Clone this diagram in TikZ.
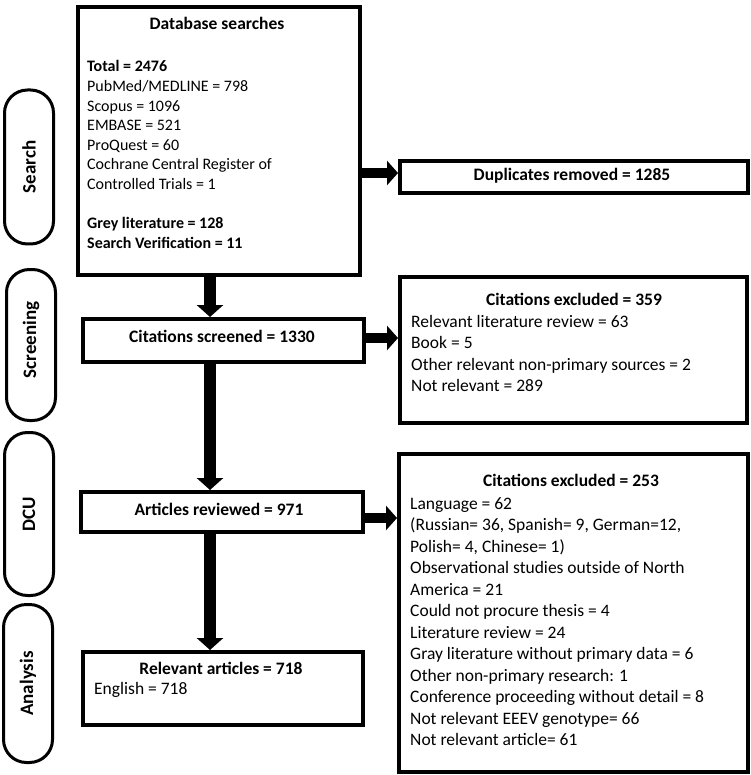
\documentclass[tikz,border=0pt]{standalone}
\usepackage{fontspec}
\setmainfont{Carlito}
\usetikzlibrary{arrows.meta,calc}
\begin{document}
\begin{tikzpicture}[x=1pt,y=1pt,
  box/.style={draw=black, line width=4pt, anchor=north west, inner sep=0pt},
  pill/.style={draw=black, line width=3pt, rounded corners=23pt, minimum width=49pt, inner sep=0pt},
  plabel/.style={rotate=90, font=\fontsize{19}{22}\selectfont\bfseries, inner sep=0pt},
  btxt/.style={font=\fontsize{17.5}{21.5}\selectfont\bfseries, inner sep=0pt},
  ltxt/.style={font=\fontsize{17.5}{21.5}\selectfont, align=left, anchor=north west, inner sep=0pt},
  dtxt/.style={font=\fontsize{16}{19.6}\selectfont, align=left, anchor=north west, inner sep=0pt},
  varr/.style={line width=12pt, -{Triangle[width=26pt,length=12pt]}},
  harr/.style={line width=10pt, -{Triangle[width=24pt,length=11pt]}}
]
\useasboundingbox (0,0) rectangle (750,-775);

% phase pills
\node[pill, minimum height=154pt] (psearch) at (29,-167) {};
\node[plabel] (lsearch) at (psearch.center) {Search};
\node[pill, minimum height=151pt] (pscreen) at (31,-345) {};
\node[plabel] (lscreen) at (31,-340) {Screening};
\node[pill, minimum height=163pt] (pdcu) at (29,-514) {};
\node[plabel] (ldcu) at (pdcu.center) {DCU};
\node[pill, minimum height=158pt] (pana) at (28,-683.5) {};
\node[plabel] (lana) at (pana.center) {Analysis};

% left column boxes
\node[box, minimum width=282pt, minimum height=268pt] (db) at (76,-5) {};
\node[btxt] (dbtitle) at (217,-23) {Database searches};
\node[dtxt] (dbbody) at (87,-60.5) {\textbf{Total = 2476}\\
PubMed/MEDLINE = 798\\
Scopus = 1096\\
EMBASE = 521\\
ProQuest = 60\\
Cochrane Central Register of\\
Controlled Trials = 1\\[19.6pt]
\textbf{Grey literature = 128}\\
\textbf{Search Verification = 11}};

\node[box, minimum width=281pt, minimum height=43pt] (scr) at (81,-317) {};
\node[btxt] (scrtxt) at (222,-336) {Citations screened = 1330};

\node[box, minimum width=282pt, minimum height=40pt] (art) at (79,-490) {};
\node[btxt] (arttxt) at (219,-509) {Articles reviewed = 971};

\node[box, minimum width=280pt, minimum height=73pt] (rel) at (81,-650) {};
\node[btxt] (reltitle) at (221,-668) {Relevant articles = 718};
\node[ltxt] (relbody) at (94,-682) {English = 718};

% right column boxes
\node[box, minimum width=348pt, minimum height=32pt] (dup) at (398,-159) {};
\node[btxt] (duptxt) at (572,-176) {Duplicates removed = 1285};

\node[box, minimum width=347pt, minimum height=146pt] (exa) at (398,-275) {};
\node[btxt] (exatitle) at (574,-299) {Citations excluded = 359};
\node[ltxt] (exabody) at (411,-315) {Relevant literature review = 63\\
Book = 5\\
Other relevant non-primary sources = 2\\
Not relevant = 289};

\node[box, minimum width=349pt, minimum height=318pt] (exb) at (397,-452) {};
\node[btxt] (exbtitle) at (571,-480) {Citations excluded = 253};
\node[ltxt] (exbbody) at (410,-497) {Language = 62\\
(Russian= 36, Spanish= 9, German=12,\\
Polish= 4, Chinese= 1)\\
Observational studies outside of North\\
America = 21\\
Could not procure thesis = 4\\
Literature review = 24\\
Gray literature without primary data = 6\\
Other non-primary research: 1\\
Conference proceeding without detail = 8\\
Not relevant EEEV genotype= 66\\
Not relevant article= 61};

% arrows
\coordinate (ax) at (210,0);
\coordinate (ya) at (0,-173);
\coordinate (yb) at (0,-338);
\coordinate (yc) at (0,-518);
\draw[varr] (db.south -| ax) -- (scr.north -| ax);
\draw[varr] (scr.south -| ax) -- (art.north -| ax);
\draw[varr] (art.south -| ax) -- (rel.north -| ax);
\draw[harr] (db.east |- ya) -- (dup.west |- ya);
\draw[harr] (scr.east |- yb) -- (exa.west |- yb);
\draw[harr] (art.east |- yc) -- (exb.west |- yc);
\end{tikzpicture}
\end{document}
